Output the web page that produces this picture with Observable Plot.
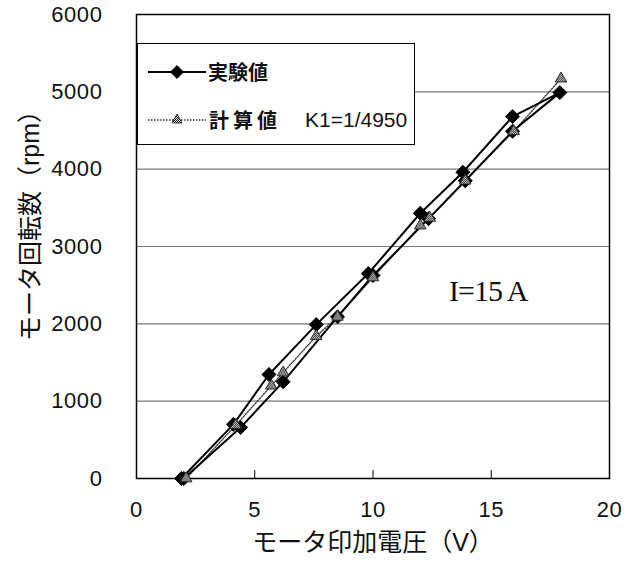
<!DOCTYPE html>
<html><head><meta charset="utf-8">
<script src="https://cdn.jsdelivr.net/npm/d3@7"></script>
<script src="https://cdn.jsdelivr.net/npm/@observablehq/plot@0.6"></script>
<style>
body{margin:0;background:#fff;}
#wrap{position:relative;width:625px;height:562px;font-family:"Liberation Sans",Arial,"Noto Sans CJK JP",sans-serif;}
.legend{position:absolute;left:137px;top:43px;width:278px;height:102px;box-sizing:border-box;border:1px solid #000;background:#fff;}
.legend svg{position:absolute;left:0;top:0;}
.lt{position:absolute;font-size:20px;line-height:20px;color:#111;white-space:nowrap;}
.cjk{font-family:"Noto Sans CJK JP",sans-serif;font-weight:bold;}
.ann{position:absolute;left:449px;top:276px;font-family:"Liberation Serif","Times New Roman",serif;font-size:30px;line-height:30px;letter-spacing:-1px;color:#111;}
</style></head><body><div id="wrap"></div><script>
// Experimental values (up sweep then down sweep)
const expVolt = [1.9, 4.1, 5.6, 7.6, 9.8, 12.0, 13.8, 15.9, 17.9, 15.9, 13.9, 12.35, 10.0, 8.5, 6.2, 4.4, 2.0];
const expRpm  = [0, 700, 1345, 1990, 2650, 3430, 3960, 4680, 4990, 4490, 3850, 3360, 2625, 2090, 1250, 660, 0];
// Calculated values K1=1/4950
const calcVolt = [2.1, 4.2, 5.7, 6.2, 7.6, 8.5, 10.0, 12.0, 12.4, 13.9, 15.95, 17.95];
const calcRpm  = [0, 690, 1200, 1370, 1840, 2090, 2600, 3270, 3370, 3850, 4490, 5170];
const yTicks = [0, 1000, 2000, 3000, 4000, 5000, 6000];
const gridRpm = [1000, 2000, 3000, 4000, 5000];
const xTicks = [0, 5, 10, 15, 20];
const innerTicks = [5, 10, 15];
const yLabel = "モータ回転数（rpm）";
const xLabel = "モータ印加電圧（V）";
const seriesNames = ["実験値", "計算値"];
const calcNote = "K1=1/4950";
const annotation = "I=15 A";

const exp = expVolt.map((v, i) => ({v, r: expRpm[i]}));
const calc = calcVolt.map((v, i) => ({v, r: calcRpm[i]}));

const chart = Plot.plot({
  width: 625, height: 562,
  marginLeft: 136, marginRight: 16, marginTop: 14, marginBottom: 84,
  style: {fontFamily: '"Liberation Sans", Arial, "Noto Sans CJK JP", sans-serif', fontSize: "22px", color: "#111", background: "transparent", overflow: "visible"},
  x: {domain: [0, 20]},
  y: {domain: [0, 6000]},
  marks: [
    Plot.ruleY(gridRpm, {stroke: "#777", strokeWidth: 1.2}),
    Plot.axisY(yTicks, {tickSize: 0, tickPadding: 34, label: null, fontSize: 22, tickFormat: d => String(d)}),
    Plot.axisX(xTicks, {tickSize: 0, tickPadding: 23, label: null, fontSize: 22, tickFormat: d => String(d)}),
    Plot.axisX(innerTicks, {tickSize: 8, dy: -8, tickFormat: () => "", label: null, stroke: "#000"}),
    Plot.frame({stroke: "#000", strokeWidth: 1.5}),
    Plot.line(calc, {x: "v", y: "r", stroke: "#333", strokeWidth: 1.3, strokeDasharray: "1.5,1.5"}),
    Plot.line(exp, {x: "v", y: "r", stroke: "#000", strokeWidth: 2}),
    Plot.dot(exp, {x: "v", y: "r", symbol: "diamond2", r: 6.3, fill: "#000", stroke: "#000", strokeWidth: 1}),
    Plot.dot(calc, {x: "v", y: "r", symbol: "triangle", r: 4.3, fill: "url(#chk)", stroke: "#222", strokeWidth: 0.9}),
    Plot.text([yLabel], {text: d => d, frameAnchor: "left", textAnchor: "middle", rotate: -90, dx: -106, dy: -27, fontSize: 25}),
    Plot.text([xLabel], {text: d => d, frameAnchor: "bottom", textAnchor: "middle", dy: 72, fontSize: 25})
  ]
});
const ns = "http://www.w3.org/2000/svg";
const defs = document.createElementNS(ns, "defs");
defs.innerHTML = '<pattern id="chk" width="2" height="2" patternUnits="userSpaceOnUse"><rect width="2" height="2" fill="#fff"/><rect width="1" height="1" fill="#000"/><rect x="1" y="1" width="1" height="1" fill="#000"/></pattern>';
chart.prepend(defs);
chart.querySelectorAll('g[aria-label="y-axis tick label"] text, g[aria-label="x-axis tick label"] text').forEach(t => t.setAttribute("letter-spacing", "0.6"));
const wrap = document.getElementById("wrap");
wrap.appendChild(chart);

// Legend inside the plot area
const lg = document.createElement("div");
lg.className = "legend";
lg.innerHTML = `
<svg width="278" height="102">
  <defs><pattern id="chk2" width="2" height="2" patternUnits="userSpaceOnUse"><rect width="2" height="2" fill="#fff"/><rect width="1" height="1" fill="#000"/><rect x="1" y="1" width="1" height="1" fill="#000"/></pattern></defs>
  <line x1="10" x2="68" y1="28" y2="28" stroke="#000" stroke-width="2"/>
  <polygon points="39,21 46,28 39,35 32,28" fill="#000"/>
  <line x1="10" x2="68" y1="76" y2="76" stroke="#333" stroke-width="1.3" stroke-dasharray="1.5,1.5"/>
  <polygon points="39,70 44,79 34,79" fill="url(#chk2)" stroke="#222" stroke-width="0.9"/>
</svg>
<span class="lt cjk" style="left:70px;top:18px;">${seriesNames[0]}</span>
<span class="lt cjk" style="left:71px;top:66px;letter-spacing:4px;">${seriesNames[1]}</span>
<span class="lt" style="left:167px;top:66px;font-size:21px;">${calcNote}</span>`;
wrap.appendChild(lg);

const ann = document.createElement("div");
ann.className = "ann";
ann.textContent = annotation;
wrap.appendChild(ann);
</script></body></html>
